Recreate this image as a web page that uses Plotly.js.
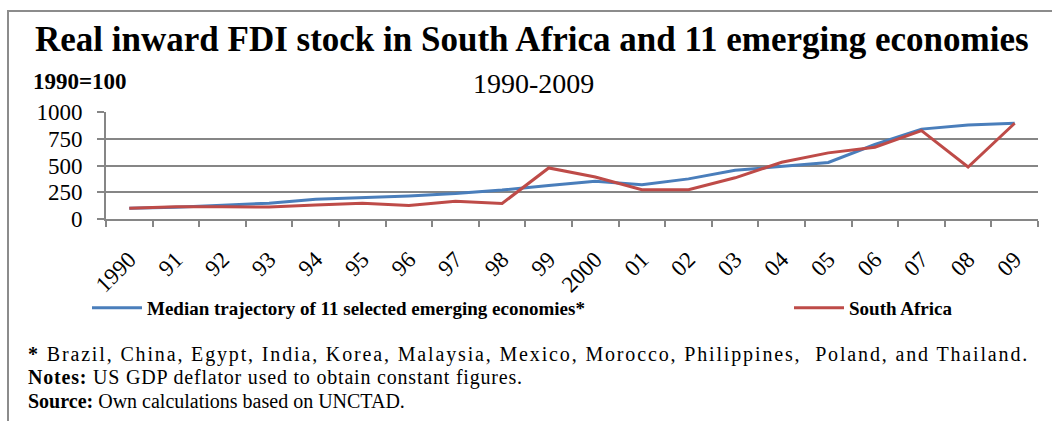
<!DOCTYPE html>
<html>
<head>
<meta charset="utf-8">
<script src="https://cdn.plot.ly/plotly-3.0.1.min.js"></script>
<style>
  html, body { margin: 0; padding: 0; background: #ffffff; }
  #chart { width: 1052px; height: 421px; }
</style>
</head>
<body>
<div id="chart"></div>
<script>
// ---- Data ----
const years = ["1990", "91", "92", "93", "94", "95", "96", "97", "98", "99",
               "2000", "01", "02", "03", "04", "05", "06", "07", "08", "09"];
const medianEmerging = [100, 110, 128, 148, 185, 200, 216, 238, 270, 313,
                        352, 320, 375, 455, 492, 528, 696, 840, 878, 895];
const southAfrica = [100, 114, 114, 112, 132, 148, 126, 166, 145, 477,
                     392, 273, 273, 385, 530, 618, 671, 826, 486, 895];
const seriesNames = ["Median trajectory of 11 selected emerging economies*", "South Africa"];
const noteLines = [
  "<b>*</b> Brazil, China, Egypt, India, Korea, Malaysia, Mexico, Morocco, Philippines,  Poland, and Thailand.",
  "<b>Notes:</b> US GDP deflator used to obtain constant figures.",
  "<b>Source:</b> Own calculations based on UNCTAD."
];

// ---- Layout geometry (pixels) ----
const W = 1052, H = 421;
const M = { l: 106, r: 14, t: 112, b: 202 };
const PW = W - M.l - M.r, PH = H - M.t - M.b;
const px = x => (x - M.l) / PW;          // pixel x -> paper x
const py = y => (H - M.b - y) / PH;      // pixel y -> paper y

const serif = "Liberation Serif, Times New Roman, serif";
const grey = "#868686";

const traces = [
  { x: years, y: medianEmerging, name: seriesNames[0], type: "scatter", mode: "lines",
    line: { color: "#4A7EBB", width: 3 }, legend: "legend" },
  { x: years, y: southAfrica, name: seriesNames[1], type: "scatter", mode: "lines",
    line: { color: "#BE4B48", width: 3 }, legend: "legend2" }
];

const legendBase = {
  orientation: "h", xanchor: "left", yanchor: "middle", y: py(308),
  font: { family: serif, size: 19, weight: "bold", color: "#000" },
  bgcolor: "rgba(0,0,0,0)", itemwidth: 50
};

const noteY = [354, 377.5, 401];
const noteSpacing = [1.85, 0.8, 0];   // letter spacing (px) of each footnote line

const layout = {
  width: W, height: H,
  margin: M,
  paper_bgcolor: "#ffffff", plot_bgcolor: "#ffffff",
  font: { family: serif, color: "#000000" },
  showlegend: true,
  legend: Object.assign({}, legendBase, { x: px(87) }),
  legend2: Object.assign({}, legendBase, { x: px(789) }),
  xaxis: {
    type: "category", range: [-0.5, years.length - 0.5], tickson: "boundaries",
    ticks: "outside", ticklen: 6,
    tickcolor: grey, tickwidth: 2, showline: true, linecolor: grey, linewidth: 2,
    showgrid: false, tickangle: -45, tickfont: { family: serif, size: 23, color: "#000" },
    ticklabelstandoff: 16, fixedrange: true
  },
  yaxis: {
    range: [0, 1000], dtick: 250, tick0: 0, ticks: "outside", ticklen: 7,
    tickcolor: grey, tickwidth: 2, showline: true, linecolor: grey, linewidth: 2,
    showgrid: true, gridcolor: grey, gridwidth: 2, zeroline: false,
    tickfont: { family: serif, size: 23, color: "#000" }, ticklabelstandoff: 10,
    fixedrange: true
  },
  shapes: [
    { type: "rect", xref: "paper", yref: "paper",
      x0: px(8), x1: px(1070), y0: py(11), y1: py(440),
      line: { color: "#8c8c8c", width: 2 }, fillcolor: "rgba(0,0,0,0)", layer: "below" }
  ],
  annotations: [
    { xref: "paper", yref: "paper", x: px(532), y: py(40), xanchor: "center", yanchor: "middle",
      showarrow: false, text: "<b>Real inward FDI stock in South Africa and 11 emerging economies</b>",
      font: { family: serif, size: 35, color: "#000" } },
    { xref: "paper", yref: "paper", x: px(31), y: py(81), xanchor: "left", yanchor: "middle",
      showarrow: false, text: "<b>1990=100</b>",
      font: { family: serif, size: 23, color: "#000" } },
    { xref: "paper", yref: "paper", x: px(533), y: py(83), xanchor: "center", yanchor: "middle",
      showarrow: false, text: "1990-2009",
      font: { family: serif, size: 28, color: "#000" } }
  ].concat(noteLines.map((t, i) => ({
      xref: "paper", yref: "paper", x: px(26), y: py(noteY[i]), xanchor: "left", yanchor: "middle",
      align: "left", showarrow: false,
      text: noteSpacing[i] ? '<span style="letter-spacing:' + noteSpacing[i] + 'px">' + t + '</span>' : t,
      font: { family: serif, size: 20, color: "#000" } })))
};

Plotly.newPlot("chart", traces, layout, { staticPlot: true, displayModeBar: false });
</script>
</body>
</html>
